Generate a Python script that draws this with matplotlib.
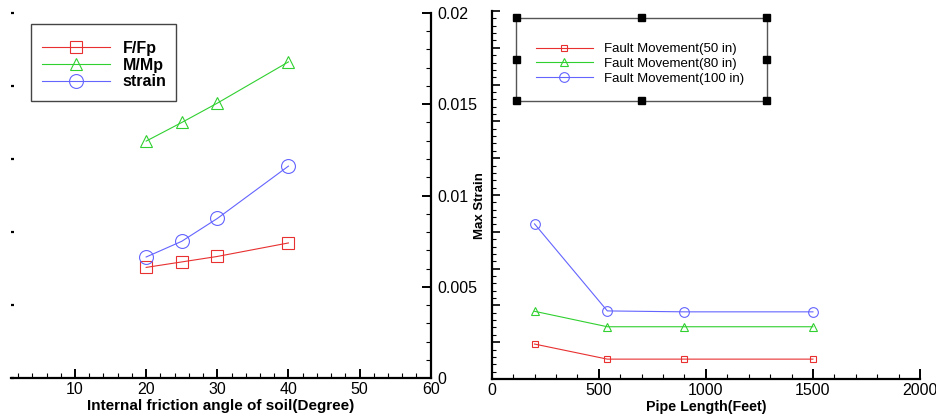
import matplotlib
matplotlib.use("Agg")
import matplotlib.pyplot as plt
from matplotlib.ticker import MultipleLocator, FuncFormatter
from matplotlib.patches import Rectangle

plt.rcParams['font.family'] = ['Liberation Sans', 'DejaVu Sans']

# left panel: friction angle study
angle = [20, 25, 30, 40]
f_fp = [0.303, 0.318, 0.333, 0.370]
m_mp = [0.649, 0.700, 0.753, 0.866]
strain = [0.00663, 0.00749, 0.00874, 0.01161]

# right panel: pipe length study
pipe_len = [200, 540, 900, 1500]
fm50 = [0.0019, 0.00108, 0.00108, 0.00108]
fm80 = [0.00368, 0.00284, 0.00284, 0.00284]
fm100 = [0.00843, 0.0037, 0.00365, 0.00365]

RED = '#e83030'
GREEN = '#30d030'
BLUE = '#6464ff'

W, H = 937, 419
fig = plt.figure(figsize=(W / 100, H / 100), dpi=100)

def fx(px):
    return px / W

def fy(py):
    return 1 - py / H

def frame_box(x0, x1, y0, y1, ec, handles=False):
    fig.add_artist(Rectangle((fx(x0), fy(y1)), fx(x1 - x0), (y1 - y0) / H,
                             transform=fig.transFigure, fill=False, ec=ec, lw=1.0))
    if not handles:
        return
    hx = [x0, (x0 + x1) / 2, x1, x0, x1, x0, (x0 + x1) / 2, x1]
    hy = [y0, y0, y0, (y0 + y1) / 2, (y0 + y1) / 2, y1, y1, y1]
    for px, py in zip(hx, hy):
        fig.add_artist(Rectangle((fx(px - 3.5), fy(py + 3.5)), fx(7), 7 / H,
                                 transform=fig.transFigure, color='black'))

# ---------- left panel ----------
ax = fig.add_axes([fx(11), fy(378), fx(430.7 - 11), (378 - 13) / H])
ax.set_xlim(1, 60)
ax.set_ylim(0, 1)
l1, = ax.plot(angle, f_fp, color=RED, lw=0.8, marker='s', ms=8, mfc='none', mew=0.8, label='F/Fp')
l2, = ax.plot(angle, m_mp, color=GREEN, lw=0.8, marker='^', ms=9, mfc='none', mew=0.8, label='M/Mp')
ax2 = ax.twinx()
ax2.set_ylim(0, 0.02)
l3, = ax2.plot(angle, strain, color=BLUE, lw=0.8, marker='o', ms=10, mfc='none', mew=0.8, label='strain')

for a in (ax, ax2):
    for s in ('top', 'left', 'right', 'bottom'):
        a.spines[s].set_visible(False)
ax.spines['bottom'].set_visible(True)
ax.spines['bottom'].set_linewidth(1.6)
ax2.spines['right'].set_visible(True)
ax2.spines['right'].set_linewidth(1.6)

ax.xaxis.set_major_locator(MultipleLocator(10))
ax.xaxis.set_minor_locator(MultipleLocator(2))
ax.tick_params(axis='x', which='major', direction='in', length=6.5, width=1.4, labelsize=11.5, pad=3)
ax.tick_params(axis='x', which='minor', direction='in', length=3.5, width=0.8)
ax.yaxis.set_major_locator(MultipleLocator(0.2))
ax.tick_params(axis='y', which='major', direction='in', length=2.2, width=1.6, labelleft=False)

ax2.yaxis.set_major_locator(MultipleLocator(0.005))
ax2.yaxis.set_minor_locator(MultipleLocator(0.001))
ax2.yaxis.set_major_formatter(FuncFormatter(lambda v, p: '%g' % v))
ax2.tick_params(axis='y', which='major', direction='in', length=6.5, width=1.4, labelsize=11.5, pad=5)
ax2.tick_params(axis='y', which='minor', direction='in', length=3.5, width=0.8)
ax.set_xlabel('Internal friction angle of soil(Degree)', fontsize=11, fontweight='bold', labelpad=1)

leg1 = fig.legend(handles=[l1, l2, l3], loc='upper left', bbox_to_anchor=(fx(42), fy(41)),
                  borderaxespad=0, borderpad=0, frameon=False,
                  handlelength=4.25, handletextpad=0.8, labelspacing=0.1,
                  prop={'weight': 'bold', 'size': 11.5})
frame_box(31, 176, 24, 101, '#444444')

# ---------- right panel ----------
bx = fig.add_axes([fx(491.7), fy(379), fx(920 - 491.7), (379 - 11) / H])
bx.set_xlim(0, 2000)
bx.set_ylim(0, 0.02)
p1, = bx.plot(pipe_len, fm50, color=RED, lw=0.8, marker='s', ms=5, mfc='none', mew=0.8, label='Fault Movement(50 in)')
p2, = bx.plot(pipe_len, fm80, color=GREEN, lw=0.8, marker='^', ms=6, mfc='none', mew=0.8, label='Fault Movement(80 in)')
p3, = bx.plot(pipe_len, fm100, color=BLUE, lw=0.8, marker='o', ms=7, mfc='none', mew=0.8, label='Fault Movement(100 in)')
for s in ('top', 'right'):
    bx.spines[s].set_visible(False)
for s in ('left', 'bottom'):
    bx.spines[s].set_linewidth(1.6)
bx.xaxis.set_major_locator(MultipleLocator(500))
bx.xaxis.set_minor_locator(MultipleLocator(100))
bx.yaxis.set_major_locator(MultipleLocator(0.002))
bx.yaxis.set_minor_locator(MultipleLocator(0.0004))
bx.tick_params(axis='x', which='major', direction='in', length=7, width=1.4, labelsize=11.5, pad=3)
bx.tick_params(axis='x', which='minor', direction='in', length=3.5, width=0.8)
bx.tick_params(axis='y', which='major', direction='in', length=6, width=1.2, labelleft=False)
bx.tick_params(axis='y', which='minor', direction='in', length=3, width=0.8)
bx.set_xlabel('Pipe Length(Feet)', fontsize=10.3, fontweight='bold', labelpad=1)
bx.set_ylabel('Max Strain', fontsize=9.5, fontweight='bold')
bx.yaxis.set_label_coords(-0.013, 0.47)

leg2 = fig.legend(handles=[p1, p2, p3], loc='upper left', bbox_to_anchor=(fx(536), fy(43)),
                  borderaxespad=0, borderpad=0, frameon=False,
                  handlelength=4.3, handletextpad=0.85, labelspacing=0.2,
                  prop={'size': 9.5})
frame_box(516, 766.7, 18, 100.7, '#555555', handles=True)

fig.savefig('out.png', dpi=100)
